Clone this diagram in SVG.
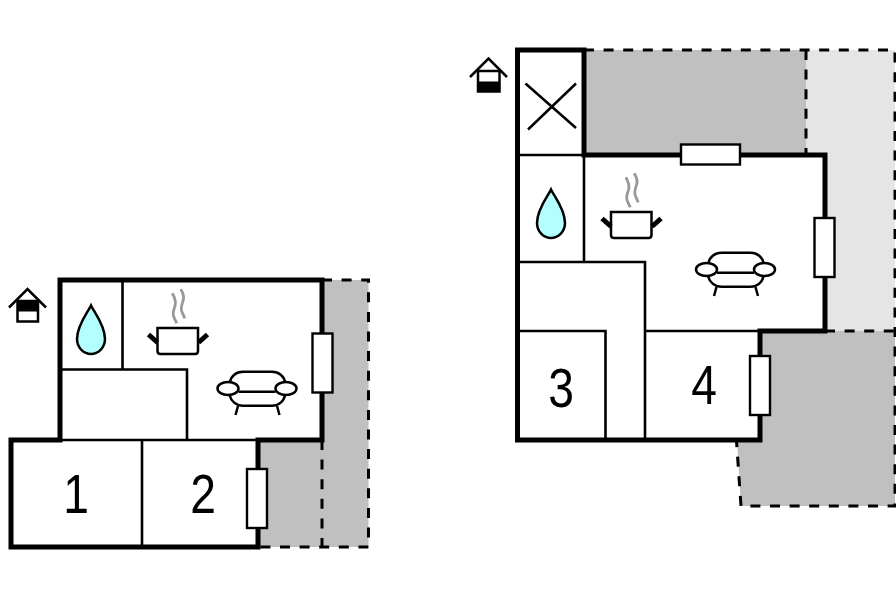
<svg xmlns="http://www.w3.org/2000/svg" width="896" height="597" viewBox="0 0 896 597">
<style>
.wall{fill:none;stroke:#000;stroke-width:5;stroke-linejoin:miter;stroke-linecap:square}
.thin{fill:none;stroke:#000;stroke-width:2.600}
.dash{fill:none;stroke:#000;stroke-width:3;stroke-dasharray:10 9.6}
.g1{fill:#c0c0c0}
.g2{fill:#e5e5e5}
.win{fill:#fff;stroke:#000;stroke-width:2.400}
.num{font-family:"Liberation Sans",Arial,sans-serif;font-size:55px;fill:#000;text-anchor:middle}
.ico{fill:none;stroke:#000;stroke-width:2.500}
</style>
<defs>
<g id="drop"><path d="M91 305.500C88 312 77 325 77 339C77 348 84 354 91 354C98 354 105 348 105 339C105 325 94 312 91 305.500Z" fill="#b3ffff" stroke="#000" stroke-width="2.500"/></g>
<g id="pot">
<path d="M172.300 293.300C175 298 176 303 175 306C173.500 310 172.500 313 173.500 316C174.500 319 176 321 176.700 323.300M180.700 289.300C183 293 184 297 183.300 300C182 304 180.800 307 181.500 310.500C182.300 313.500 184 316 184.700 318.300" fill="none" stroke="#999" stroke-width="2.800"/>
<path d="M157.500 328H198V351Q198 354 195 354H160.500Q157.500 354 157.500 351Z" fill="#fff" stroke="#000" stroke-width="2.500"/>
<path d="M148.500 334.500L157.500 342.500M207.500 334.500L198.500 342.500" fill="none" stroke="#000" stroke-width="5"/>
</g>
<g id="sofa" class="ico">
<ellipse cx="228" cy="388.500" rx="10.500" ry="6.500"/>
<ellipse cx="286" cy="388.500" rx="10.500" ry="6.500"/>
<path d="M230 382C231 376 236 371.800 243 371.800H272C279 371.800 284 376 285 382"/>
<path d="M238.500 391.700H275.500"/>
<path d="M229.500 395C231 401 236 405.700 243 405.700H272C279 405.700 284 401 285 395"/>
<path d="M238 406L235.500 415M277 406L279.500 415"/>
</g>
</defs>
<rect width="896" height="597" fill="#fff"/>
<g id="plan-ground">
<g id="terrace-ground">
<path class="g1" d="M322 280H368.500V547H258V440H322Z"/>
<path class="dash" d="M322 280H368.500V547H258"/>
<path class="dash" d="M322 440V547"/>
</g>
<g id="rooms-ground">
<path class="thin" d="M122.500 280V369.500M60 369.500H187V440M60 440H258M142 440V547"/>
<path class="wall" d="M322 280H60V440H11V547H258V440H322Z"/>
<rect class="win" x="312.500" y="333.500" width="20" height="59"/>
<rect class="win" x="247" y="469" width="20" height="59"/>
</g>
<g id="house-ground">
<rect x="17.500" y="301" width="20.500" height="20.500" fill="#fff" stroke="#000" stroke-width="2.500"/>
<rect x="17.500" y="301" width="20.500" height="10.500" fill="#000"/>
<path d="M9 307.500L27.500 289L46 307.500" fill="none" stroke="#000" stroke-width="2.500"/>
</g>
<use id="bath-ground" href="#drop"/>
<use id="kitchen-ground" href="#pot"/>
<use id="sofa-ground" href="#sofa"/>
<text class="num" transform="translate(76 513) scale(.84 1)">1</text>
<text class="num" transform="translate(203 513) scale(.84 1)">2</text>
</g>
<g id="plan-first">
<g id="terrace-first">
<path class="g2" d="M806 50H895V331H825V155H806Z"/>
<path class="g1" d="M584 50H806V155H584Z"/>
<path class="g1" d="M760 331H895V506H741L737 440H760Z"/>
<path class="dash" d="M584 50H895V506H741L736.500 441"/>
<path class="dash" d="M806 50V155M825 331H895"/>
</g>
<g id="rooms-first">
<path class="thin" d="M517 155H584V262M517 262H645V440M517 331H605.500V440M645 331H760"/>
<path class="wall" d="M584 155V50H517.500V440H760V331H825V155Z"/>
<rect class="win" x="681" y="144.500" width="59" height="20"/>
<rect class="win" x="814.500" y="218" width="20" height="59"/>
<rect class="win" x="750" y="356" width="20" height="59"/>
<path d="M525.500 83.500L576 128M528 129.500L576 83.500" fill="none" stroke="#000" stroke-width="2.500"/>
</g>
<g id="house-first">
<rect x="478" y="71" width="21.500" height="20.500" fill="#fff" stroke="#000" stroke-width="2.500"/>
<rect x="478" y="81.500" width="21.500" height="10" fill="#000"/>
<path d="M470 77L488.500 58.500L507 77" fill="none" stroke="#000" stroke-width="2.500"/>
</g>
<use id="bath-first" href="#drop" x="460" y="-116"/>
<use id="kitchen-first" href="#pot" x="453.500" y="-116"/>
<use id="sofa-first" href="#sofa" x="478.500" y="-119"/>
<text class="num" transform="translate(561 407) scale(.84 1)">3</text>
<text class="num" transform="translate(704 404) scale(.84 1)">4</text>
</g>
</svg>
